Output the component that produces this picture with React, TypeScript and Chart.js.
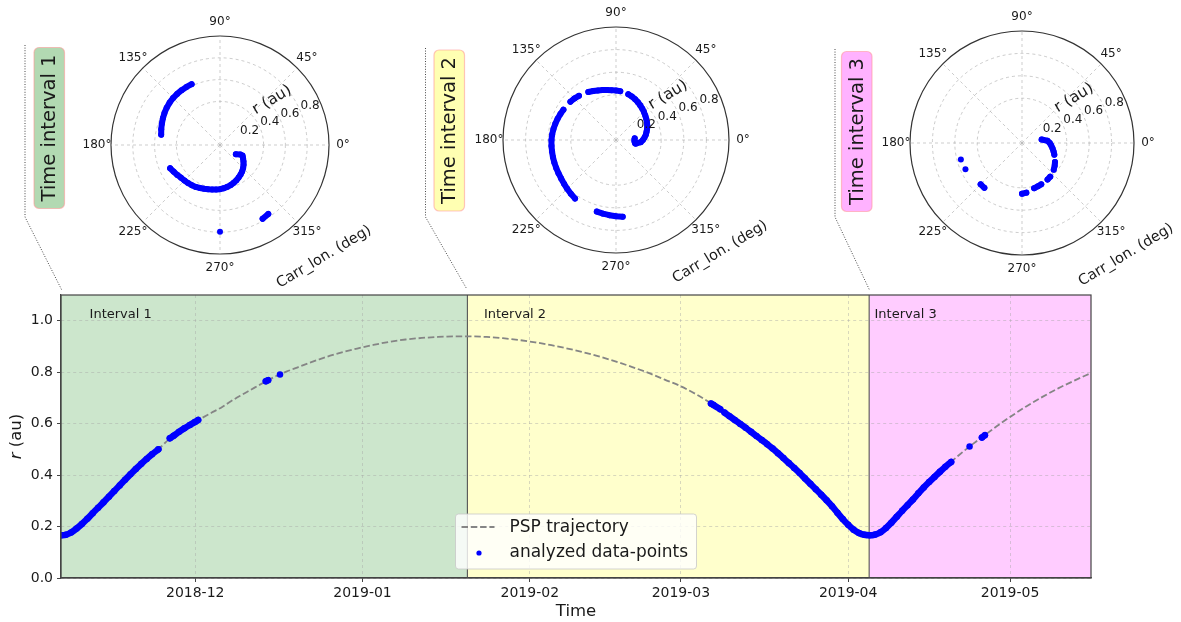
import React, { useEffect, useRef } from 'react';
import { Chart, registerables } from 'chart.js';

Chart.register(...registerables);

const FONT = '"DejaVu Sans", "Liberation Sans", sans-serif';
const BLUE = '#0000ff';
const TEXT = '#1a1a1a';

// ---------------- main chart data ----------------
const xRange = ['2018-11-06T03:00', '2019-05-16T00:00'];
const xTickDates = ['2018-12-01', '2019-01-01', '2019-02-01', '2019-03-01', '2019-04-01', '2019-05-01'];
const xTickLabels = ['2018-12', '2019-01', '2019-02', '2019-03', '2019-04', '2019-05'];
const yTicks = [0, 0.2, 0.4, 0.6, 0.8, 1.0];
const yTickLabels = ['0.0', '0.2', '0.4', '0.6', '0.8', '1.0'];
const yMax = 1.1;

const trajDates = [
  '2018-11-06T03:00', '2018-11-07', '2018-11-08', '2018-11-09', '2018-11-10', '2018-11-11', '2018-11-12',
  '2018-11-13', '2018-11-14', '2018-11-15', '2018-11-16', '2018-11-17', '2018-11-18', '2018-11-19',
  '2018-11-20', '2018-11-21', '2018-11-22', '2018-11-23', '2018-11-24', '2018-11-25', '2018-11-26',
  '2018-11-27', '2018-11-28', '2018-11-29', '2018-11-30', '2018-12-01', '2018-12-02', '2018-12-04',
  '2018-12-06', '2018-12-08', '2018-12-10', '2018-12-12', '2018-12-14', '2018-12-16', '2018-12-18',
  '2018-12-20', '2018-12-22', '2018-12-24', '2018-12-26', '2018-12-28', '2018-12-31', '2019-01-03',
  '2019-01-06', '2019-01-09', '2019-01-12', '2019-01-15', '2019-01-18', '2019-01-21', '2019-01-24',
  '2019-01-27', '2019-01-30', '2019-02-02', '2019-02-05', '2019-02-08', '2019-02-11', '2019-02-14',
  '2019-02-17', '2019-02-20', '2019-02-23', '2019-02-26', '2019-03-01', '2019-03-04', '2019-03-07',
  '2019-03-09', '2019-03-11', '2019-03-13', '2019-03-15', '2019-03-17', '2019-03-19', '2019-03-21',
  '2019-03-23', '2019-03-25', '2019-03-27', '2019-03-29', '2019-03-31', '2019-04-02', '2019-04-03',
  '2019-04-04', '2019-04-05', '2019-04-06', '2019-04-07', '2019-04-08', '2019-04-09', '2019-04-11',
  '2019-04-13', '2019-04-15', '2019-04-17', '2019-04-19', '2019-04-21', '2019-04-23', '2019-04-25',
  '2019-04-27', '2019-04-29', '2019-05-01', '2019-05-04', '2019-05-07', '2019-05-10', '2019-05-13',
  '2019-05-16',
];
const trajR = [
  0.166, 0.168, 0.177, 0.192, 0.21, 0.23, 0.252,
  0.273, 0.294, 0.316, 0.338, 0.36, 0.382, 0.403,
  0.424, 0.444, 0.463, 0.481, 0.497, 0.517, 0.537,
  0.553, 0.568, 0.582, 0.595, 0.607, 0.619, 0.642,
  0.665, 0.692, 0.716, 0.74, 0.763, 0.785, 0.803,
  0.819, 0.835, 0.85, 0.864, 0.876, 0.892, 0.906,
  0.918, 0.927, 0.933, 0.937, 0.939, 0.939, 0.937,
  0.932, 0.925, 0.916, 0.905, 0.892, 0.877, 0.86,
  0.841, 0.82, 0.797, 0.771, 0.745, 0.712, 0.673,
  0.645, 0.614, 0.584, 0.552, 0.52, 0.485, 0.447,
  0.408, 0.366, 0.324, 0.279, 0.229, 0.188, 0.175,
  0.168, 0.166, 0.169, 0.178, 0.194, 0.215, 0.261,
  0.305, 0.352, 0.393, 0.432, 0.468, 0.503, 0.535,
  0.566, 0.597, 0.626, 0.667, 0.704, 0.738, 0.768,
  0.797,
];

// analyzed data-points (null = gap between observation windows)
const ptsDates = [
  '2018-11-06T03:00', '2018-11-07', '2018-11-08', '2018-11-09', '2018-11-10', '2018-11-11', '2018-11-12',
  '2018-11-13', '2018-11-14', '2018-11-15', '2018-11-16', '2018-11-17', '2018-11-18', '2018-11-19',
  '2018-11-20', '2018-11-21', '2018-11-22', '2018-11-23', '2018-11-24T04:00',
  '2018-11-25',
  '2018-11-26T07:00', '2018-11-27', '2018-11-28', '2018-11-29', '2018-11-30', '2018-12-01', '2018-12-01T13:00',
  '2018-12-08',
  '2018-12-14T02:00', '2018-12-14T12:00',
  '2018-12-15T12:00',
  '2018-12-16T17:00',
  '2019-02-01',
  '2019-03-06T14:00', '2019-03-07', '2019-03-08T07:00',
  '2019-03-08T18:00',
  '2019-03-09T02:00', '2019-03-10', '2019-03-11', '2019-03-12', '2019-03-13', '2019-03-14', '2019-03-15',
  '2019-03-16', '2019-03-17', '2019-03-18', '2019-03-19', '2019-03-20', '2019-03-21', '2019-03-22',
  '2019-03-23', '2019-03-24', '2019-03-25', '2019-03-26', '2019-03-27', '2019-03-28', '2019-03-29',
  '2019-03-30', '2019-03-31', '2019-04-01', '2019-04-02', '2019-04-03', '2019-04-04', '2019-04-05',
  '2019-04-06', '2019-04-07', '2019-04-08', '2019-04-09', '2019-04-10', '2019-04-11', '2019-04-12',
  '2019-04-13', '2019-04-14', '2019-04-15', '2019-04-16', '2019-04-17', '2019-04-18', '2019-04-19',
  '2019-04-20T02:00',
  '2019-04-22',
  '2019-04-23T12:00',
  '2019-04-24T12:00',
  '2019-04-25T19:00', '2019-04-26T08:00',
];
const ptsR = [
  0.166, 0.168, 0.177, 0.192, 0.21, 0.23, 0.252,
  0.273, 0.294, 0.316, 0.338, 0.36, 0.382, 0.403,
  0.424, 0.444, 0.463, 0.481, 0.5,
  null,
  0.543, 0.553, 0.568, 0.582, 0.595, 0.607, 0.614,
  null,
  0.765, 0.769,
  null,
  0.791,
  null,
  0.678, 0.673, 0.656,
  null,
  0.643, 0.629, 0.614, 0.599, 0.584, 0.568, 0.552,
  0.536, 0.52, 0.503, 0.485, 0.466, 0.447, 0.428,
  0.408, 0.387, 0.366, 0.345, 0.324, 0.302, 0.279,
  0.254, 0.229, 0.207, 0.188, 0.175, 0.168, 0.166,
  0.169, 0.178, 0.194, 0.215, 0.238, 0.261, 0.283,
  0.305, 0.329, 0.352, 0.373, 0.393, 0.413, 0.432,
  0.451,
  null,
  0.511,
  null,
  0.546, 0.555,
];

const intervalNames = ['Interval 1', 'Interval 2', 'Interval 3'];
const intervalStarts = ['2018-11-06T03:00', '2019-01-20T10:30', '2019-04-04T21:20'];
const intervalEnds = ['2019-01-20T10:30', '2019-04-04T21:20', '2019-05-16T00:00'];
const intervalColors = ['#cce6cc', '#ffffcc', '#ffccff'];
const intervalLabelDates = ['2018-11-11T10:00', '2019-01-23T12:00', '2019-04-05T21:00'];
const intervalLabelR = 1.023;

const insetNames = ['Time interval 1', 'Time interval 2', 'Time interval 3'];
const insetBoxColors = ['rgb(178,217,178)', 'rgb(255,255,178)', 'rgb(255,178,255)'];

// ---------------- polar data: [Carrington longitude (deg), r (au)] ----------------
const polar1ArcA: [number, number][] = [
  [335, 0.228], [330, 0.244], [325, 0.263], [320, 0.282], [315, 0.3], [310, 0.316], [305, 0.33],
  [300, 0.343], [295, 0.357], [290, 0.369], [285, 0.38], [280, 0.39], [275, 0.398], [270, 0.405],
  [265, 0.41], [260, 0.415], [255, 0.42], [250, 0.427], [245, 0.435], [240, 0.444], [235, 0.45],
  [230, 0.456], [225, 0.461], [220, 0.467], [215, 0.478], [210, 0.49], [205, 0.505],
];
const polar1ArcB: [number, number][] = [
  [170, 0.548], [165, 0.558], [160, 0.568], [155, 0.578], [150, 0.588], [145, 0.597], [140, 0.604],
  [135, 0.609], [130, 0.612], [125, 0.614], [120, 0.615], [115, 0.616],
];
const polar1Hook: [number, number][] = [[330, 0.168], [335, 0.205]];
const polar1Late: [number, number][] = [[305, 0.772], [300, 0.782], [270, 0.795]];

const polar2Outer: [number, number][] = [[275, 0.682], [270, 0.675], [265, 0.668], [260, 0.662], [255, 0.656]];
const polar2Spiral: [number, number][] = [
  [235, 0.632], [230, 0.622], [225, 0.611], [220, 0.601], [215, 0.593], [210, 0.588], [205, 0.584],
  [200, 0.581], [195, 0.578], [190, 0.575], [185, 0.573], [180, 0.571], [175, 0.567], [170, 0.562],
  [165, 0.556], [160, 0.55], [155, 0.543], [150, 0.537], [140, 0.527], [135, 0.52], [130, 0.51],
  [120, 0.49], [115, 0.478], [110, 0.467], [105, 0.457], [100, 0.45], [95, 0.443], [90, 0.438],
  [85, 0.434], [75, 0.42], [70, 0.41], [65, 0.399], [60, 0.387], [55, 0.374], [50, 0.362],
  [45, 0.35], [40, 0.338], [35, 0.327], [30, 0.316], [25, 0.305], [20, 0.293], [15, 0.28],
  [10, 0.268], [5, 0.253], [0, 0.238], [355, 0.22], [350, 0.18],
];
const polar2Hook: [number, number][] = [[350, 0.172], [355, 0.165], [0, 0.163], [5, 0.166]];

const polar3Arc: [number, number][] = [
  [10, 0.178], [5, 0.228], [0, 0.248], [355, 0.262], [350, 0.277], [345, 0.292], [340, 0.307],
  [330, 0.34], [325, 0.356], [320, 0.37], [310, 0.392], [305, 0.398], [295, 0.407], [290, 0.412],
  [285, 0.418], [275, 0.445], [270, 0.453],
];
const polar3Late: [number, number][] = [[230, 0.523], [225, 0.522], [205, 0.557], [195, 0.565]];

const polarStep = 5;
const polarCount = 360 / polarStep;
const polarLabels = Array.from({ length: polarCount }, (_, i) => `${(360 - i * polarStep) % 360}°`);
const angleTickDegs = [0, 45, 90, 135, 180, 225, 270, 315];
const angleTickLabels = ['0°', '45°', '90°', '135°', '180°', '225°', '270°', '315°'];
const rTicks = [0.2, 0.4, 0.6, 0.8, 1.0];
const rTickLabels = ['0.2', '0.4', '0.6', '0.8'];
const rLabelDeg = 22.5;

// ---------------- helpers ----------------
function tp(s: string): number {
  const [d, h] = s.split('T');
  const [Y, M, D] = d.split('-').map(Number);
  const [hh, mm] = (h || '00:00').split(':').map(Number);
  return Date.UTC(Y, M - 1, D, hh || 0, mm || 0);
}
function degToIndex(deg: number): number {
  return ((360 - deg) / polarStep) % polarCount;
}
function toRadar(pairs: [number, number][]): (number | null)[] {
  const arr: (number | null)[] = new Array(polarCount).fill(null);
  pairs.forEach(([deg, r]) => {
    arr[Math.round(degToIndex(deg)) % polarCount] = r;
  });
  return arr;
}
function roundRectPath(ctx: any, x: number, y: number, w: number, h: number, r: number) {
  ctx.beginPath();
  ctx.moveTo(x + r, y);
  ctx.lineTo(x + w - r, y);
  ctx.arcTo(x + w, y, x + w, y + r, r);
  ctx.lineTo(x + w, y + h - r);
  ctx.arcTo(x + w, y + h, x + w - r, y + h, r);
  ctx.lineTo(x + r, y + h);
  ctx.arcTo(x, y + h, x, y + h - r, r);
  ctx.lineTo(x, y + r);
  ctx.arcTo(x, y, x + r, y, r);
  ctx.closePath();
}

// layout of the inset label boxes and connectors (pixels on the main canvas)
const insetBoxes = [
  { x: 34, y: 47.5, w: 30.5, h: 161 },
  { x: 434, y: 50, w: 30.5, h: 161 },
  { x: 841.5, y: 51.5, w: 30.5, h: 160 },
];
const connectors = [
  [[25, 45], [25, 217], [61.5, 289.5]],
  [[425.5, 48], [425.5, 217], [466.5, 288.5]],
  [[835, 49], [835, 217], [869.5, 290]],
];

const mainDecor = {
  id: 'mainDecor',
  beforeDraw(chart: any) {
    const { ctx, chartArea: a, scales } = chart;
    const x = scales.x;
    ctx.save();
    intervalStarts.forEach((s, i) => {
      const x0 = x.getPixelForValue(tp(s));
      const x1 = x.getPixelForValue(tp(intervalEnds[i]));
      ctx.fillStyle = intervalColors[i];
      ctx.fillRect(x0, a.top, x1 - x0, a.bottom - a.top);
    });
    ctx.restore();
  },
  beforeDatasetsDraw(chart: any) {
    const { ctx, chartArea: a, scales } = chart;
    const x = scales.x;
    ctx.save();
    ctx.strokeStyle = '#555';
    ctx.lineWidth = 1.1;
    intervalStarts.slice(1).forEach((s) => {
      const px = x.getPixelForValue(tp(s));
      ctx.beginPath();
      ctx.moveTo(px, a.top);
      ctx.lineTo(px, a.bottom);
      ctx.stroke();
    });
    ctx.restore();
  },
  afterDatasetsDraw(chart: any) {
    const { ctx, chartArea: a, scales } = chart;
    const x = scales.x;
    const y = scales.y;
    ctx.save();
    // interval labels
    ctx.font = `13px ${FONT}`;
    ctx.fillStyle = TEXT;
    ctx.textAlign = 'left';
    ctx.textBaseline = 'middle';
    intervalNames.forEach((n, i) => {
      ctx.fillText(n, x.getPixelForValue(tp(intervalLabelDates[i])), y.getPixelForValue(intervalLabelR));
    });
    // spines
    ctx.strokeStyle = '#444';
    ctx.lineWidth = 1.2;
    ctx.strokeRect(a.left, a.top, a.right - a.left, a.bottom - a.top);
    // legend
    const ds = chart.data.datasets;
    const cx = (a.left + a.right) / 2;
    const bw = 241, bh = 55;
    const bx = cx - bw / 2, by = a.bottom - 9 - bh;
    roundRectPath(ctx, bx, by, bw, bh, 3);
    ctx.fillStyle = 'rgba(255,255,255,0.8)';
    ctx.fill();
    ctx.strokeStyle = 'rgba(200,200,200,0.8)';
    ctx.lineWidth = 1;
    ctx.stroke();
    const row1 = by + 13, row2 = by + 39;
    ctx.strokeStyle = ds[0].borderColor;
    ctx.lineWidth = ds[0].borderWidth;
    ctx.setLineDash(ds[0].borderDash);
    ctx.beginPath();
    ctx.moveTo(bx + 6, row1);
    ctx.lineTo(bx + 39, row1);
    ctx.stroke();
    ctx.setLineDash([]);
    ctx.fillStyle = BLUE;
    ctx.beginPath();
    ctx.arc(bx + 23.5, row2, 2.6, 0, Math.PI * 2);
    ctx.fill();
    ctx.font = `17px ${FONT}`;
    ctx.fillStyle = TEXT;
    ctx.fillText(ds[0].label, bx + 54, row1 + 1);
    ctx.fillText(ds[1].label, bx + 54, row2);
    ctx.restore();
  },
  afterDraw(chart: any) {
    const { ctx, chartArea: a } = chart;
    ctx.save();
    // y title with italic r
    ctx.translate(16.7, (a.top + a.bottom) / 2);
    ctx.rotate(-Math.PI / 2);
    ctx.textBaseline = 'middle';
    ctx.textAlign = 'left';
    ctx.font = `italic 16.5px ${FONT}`;
    const w1 = ctx.measureText('r').width;
    ctx.font = `16.5px ${FONT}`;
    const w2 = ctx.measureText(' (au)').width;
    ctx.fillStyle = TEXT;
    ctx.font = `italic 16.5px ${FONT}`;
    ctx.fillText('r', -(w1 + w2) / 2, 0);
    ctx.font = `16.5px ${FONT}`;
    ctx.fillText(' (au)', -(w1 + w2) / 2 + w1, 0);
    ctx.restore();

    // connectors
    ctx.save();
    ctx.strokeStyle = '#333';
    ctx.lineWidth = 0.9;
    ctx.setLineDash([1, 1.6]);
    connectors.forEach((pts) => {
      ctx.beginPath();
      pts.forEach(([px, py], i) => (i === 0 ? ctx.moveTo(px, py) : ctx.lineTo(px, py)));
      ctx.stroke();
    });
    ctx.restore();

    // inset label boxes
    insetBoxes.forEach((b, i) => {
      ctx.save();
      roundRectPath(ctx, b.x, b.y, b.w, b.h, 5);
      ctx.fillStyle = insetBoxColors[i];
      ctx.fill();
      ctx.strokeStyle = 'rgba(255,150,150,0.55)';
      ctx.lineWidth = 1.2;
      ctx.stroke();
      ctx.translate(b.x + b.w / 2, b.y + b.h / 2);
      ctx.rotate(-Math.PI / 2);
      ctx.font = `19.5px ${FONT}`;
      ctx.fillStyle = TEXT;
      ctx.textAlign = 'center';
      ctx.textBaseline = 'middle';
      ctx.fillText(insetNames[i], 0, 1);
      ctx.restore();
    });
  },
};

const polarDecor = {
  id: 'polarDecor',
  afterDraw(chart: any) {
    const { ctx } = chart;
    const s = chart.scales.r;
    const R = s.drawingArea;
    ctx.save();
    ctx.fillStyle = TEXT;
    ctx.font = `12px ${FONT}`;
    ctx.textAlign = 'center';
    ctx.textBaseline = 'middle';
    angleTickDegs.forEach((deg, k) => {
      const p = s.getPointPosition(degToIndex(deg), R + 14);
      ctx.fillText(angleTickLabels[k], p.x, p.y);
    });
    rTickLabels.forEach((lab, k) => {
      const p = s.getPointPosition(degToIndex(rLabelDeg), s.getDistanceFromCenterForValue(rTicks[k]));
      ctx.fillText(lab, p.x + 9.5, p.y - 6);
    });
    const rot = (-31 * Math.PI) / 180;
    ctx.save();
    ctx.font = `15.5px ${FONT}`;
    ctx.translate(s.xCenter + 52, s.yCenter - 45);
    ctx.rotate(rot);
    ctx.fillText('r (au)', 0, 0);
    ctx.restore();
    ctx.save();
    ctx.font = `14.5px ${FONT}`;
    ctx.translate(s.xCenter + 104, s.yCenter + 112);
    ctx.rotate(rot);
    ctx.fillText('Carr_lon. (deg)', 0, 0);
    ctx.restore();
    ctx.restore();
  },
};

const PW = 380;
const PH = 290;
const PCX = 150;
const PCY = 145;

function PolarPlot({ cx, cy, radius, tracks }: { cx: number; cy: number; radius: number; tracks: [number, number][][] }) {
  const ref = useRef<HTMLCanvasElement | null>(null);
  useEffect(() => {
    if (!ref.current) return;
    const chart = new Chart(ref.current, {
      type: 'radar',
      data: {
        labels: polarLabels,
        datasets: tracks.map((t) => ({
          data: toRadar(t),
          borderColor: BLUE,
          backgroundColor: BLUE,
          borderWidth: 6,
          borderCapStyle: 'round',
          borderJoinStyle: 'round',
          pointRadius: 3,
          pointHoverRadius: 3,
          pointBorderWidth: 0,
          pointBackgroundColor: BLUE,
          fill: false,
          spanGaps: false,
          tension: 0,
        })),
      } as any,
      options: {
        responsive: false,
        animation: false,
        events: [],
        layout: { padding: { left: PCX - radius, right: PW - PCX - radius, top: PCY - radius, bottom: PH - PCY - radius } },
        plugins: { legend: { display: false }, tooltip: { enabled: false } },
        scales: {
          r: {
            min: 0,
            max: 1,
            startAngle: 90,
            afterBuildTicks: (sc: any) => {
              sc.ticks = rTicks.map((v) => ({ value: v }));
            },
            ticks: { display: false },
            pointLabels: { display: false },
            grid: {
              circular: true,
              color: (c: any) => (c.tick && c.tick.value >= 1 ? '#333' : 'rgba(170,170,170,0.75)'),
              lineWidth: (c: any) => (c.tick && c.tick.value >= 1 ? 1.2 : 0.8),
            },
            border: { dash: (c: any) => (c.tick && c.tick.value >= 1 ? [] : [3, 3]) },
            angleLines: {
              display: true,
              color: 'rgba(170,170,170,0.75)',
              lineWidth: (c: any) => (c.index % 9 === 0 ? 0.8 : 0),
              borderDash: [3, 3],
            },
          },
        },
      } as any,
      plugins: [polarDecor],
    });
    return () => chart.destroy();
  }, []);
  return (
    <canvas
      ref={ref}
      width={PW}
      height={PH}
      style={{ position: 'absolute', left: cx - PCX, top: cy - PCY, width: PW, height: PH }}
    />
  );
}

function MainChart() {
  const ref = useRef<HTMLCanvasElement | null>(null);
  useEffect(() => {
    if (!ref.current) return;
    const chart = new Chart(ref.current, {
      type: 'line',
      data: {
        datasets: [
          {
            label: 'PSP trajectory',
            data: trajDates.map((d, i) => ({ x: tp(d), y: trajR[i] })),
            borderColor: '#858585',
            borderWidth: 1.8,
            borderDash: [6.5, 2.8],
            pointRadius: 0,
            cubicInterpolationMode: 'monotone',
            fill: false,
            order: 2,
          },
          {
            label: 'analyzed data-points',
            data: ptsDates.map((d, i) => ({ x: tp(d), y: ptsR[i] })),
            borderColor: BLUE,
            backgroundColor: BLUE,
            borderWidth: 6.5,
            borderCapStyle: 'round',
            borderJoinStyle: 'round',
            pointRadius: 3.25,
            pointHoverRadius: 3.25,
            pointBorderWidth: 0,
            pointBackgroundColor: BLUE,
            cubicInterpolationMode: 'monotone',
            spanGaps: false,
            fill: false,
            clip: 0,
            order: 1,
          },
        ],
      } as any,
      options: {
        responsive: false,
        animation: false,
        events: [],
        layout: { padding: { top: 295, right: 90, left: 0, bottom: 0 } },
        plugins: { legend: { display: false }, tooltip: { enabled: false } },
        scales: {
          x: {
            type: 'linear',
            min: tp(xRange[0]),
            max: tp(xRange[1]),
            afterBuildTicks: (s: any) => {
              s.ticks = xTickDates.map((d) => ({ value: tp(d) }));
            },
            afterFit: (s: any) => {
              s.height = 44;
            },
            ticks: {
              callback: (_v: any, i: number) => xTickLabels[i],
              font: { family: FONT, size: 14 },
              color: TEXT,
              padding: 3,
              maxRotation: 0,
              autoSkip: false,
            },
            grid: { color: 'rgba(165,165,165,0.55)', lineWidth: 0.8, tickLength: 4, tickColor: '#444', tickWidth: 1 },
            border: { display: true, color: '#444', width: 1.2, dash: [3, 3] },
            title: { display: true, text: 'Time', font: { family: FONT, size: 16.5 }, color: TEXT, padding: { top: 0, bottom: 0 } },
          },
          y: {
            type: 'linear',
            min: 0,
            max: yMax,
            afterBuildTicks: (s: any) => {
              s.ticks = yTicks.map((v) => ({ value: v }));
            },
            afterFit: (s: any) => {
              s.width = 61;
            },
            ticks: {
              callback: (_v: any, i: number) => yTickLabels[i],
              font: { family: FONT, size: 14 },
              color: TEXT,
              padding: 4,
            },
            grid: { color: 'rgba(165,165,165,0.55)', lineWidth: 0.8, tickLength: 4, tickColor: '#444', tickWidth: 1 },
            border: { display: true, color: '#444', width: 1.2, dash: [3, 3] },
          },
        },
      } as any,
      plugins: [mainDecor],
    });
    return () => chart.destroy();
  }, []);
  return <canvas ref={ref} width={1181} height={622} style={{ position: 'absolute', left: 0, top: 0, width: 1181, height: 622 }} />;
}

export default function App() {
  return (
    <div style={{ position: 'absolute', left: 0, top: 0, width: 1181, height: 622, overflow: 'hidden', background: '#fff' }}>
      <MainChart />
      <PolarPlot cx={220} cy={145} radius={109} tracks={[[...polar1ArcA, ...polar1ArcB], [...polar1Hook, ...polar1Late]]} />
      <PolarPlot cx={616} cy={140} radius={113} tracks={[[...polar2Outer, ...polar2Spiral], polar2Hook]} />
      <PolarPlot cx={1022} cy={143} radius={112} tracks={[[...polar3Arc, ...polar3Late]]} />
    </div>
  );
}
